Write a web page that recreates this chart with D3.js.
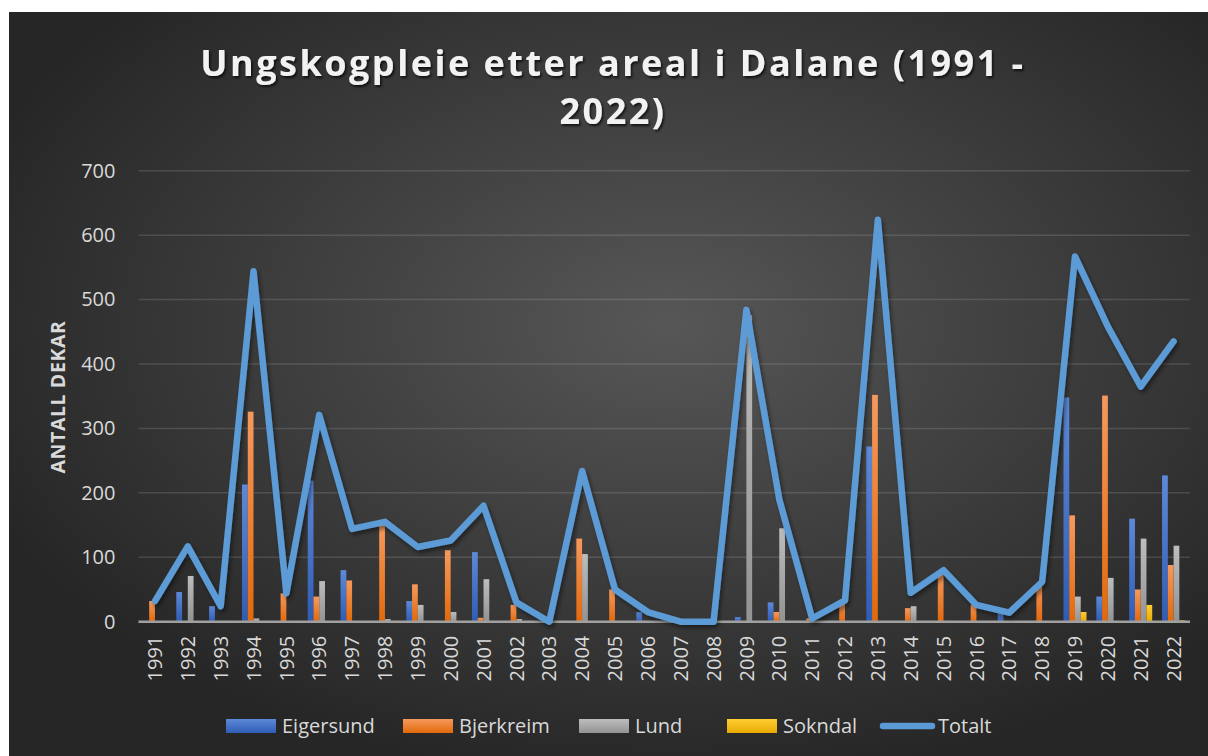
<!DOCTYPE html>
<html>
<head>
<meta charset="utf-8">
<script src="https://cdn.jsdelivr.net/npm/d3@7"></script>
<style>
  html, body { margin: 0; padding: 0; background: #ffffff; }
  svg { display: block; }
  text { font-family: "Open Sans", "DejaVu Sans", sans-serif; }
</style>
</head>
<body>
<svg id="chart" width="1208" height="756"></svg>
<script>
// ---------------- DATA ----------------
const years = ["1991","1992","1993","1994","1995","1996","1997","1998","1999","2000",
  "2001","2002","2003","2004","2005","2006","2007","2008","2009","2010",
  "2011","2012","2013","2014","2015","2016","2017","2018","2019","2020","2021","2022"];

const eigersund = [0,46,24,213,0,219,80,0,32,0,108,0,0,0,0,15,0,0,7,30,0,0,272,0,0,0,13,0,348,39,160,227];
const bjerkreim = [32,0,0,326,44,39,64,151,58,111,6,26,0,129,50,0,0,0,0,15,5,30,352,21,76,26,0,60,165,351,50,88];
const lund      = [0,71,0,5,0,63,0,4,26,15,66,4,0,105,0,0,0,0,476,145,0,0,0,24,0,0,0,0,39,68,129,118];
const sokndal   = [0,0,0,0,0,0,0,0,0,0,0,0,0,0,0,0,0,0,0,0,0,0,0,0,0,0,0,0,15,0,26,2];
const totalt    = [32,117,24,544,44,321,144,155,116,126,180,30,0,234,50,15,0,0,484,190,5,33,624,45,80,26,14,62,567,458,365,435];

const seriesNames = ["Eigersund","Bjerkreim","Lund","Sokndal"];
const lineName = "Totalt";
const yTicks = [0,100,200,300,400,500,600,700];
const titleLines = ["Ungskogpleie etter areal i Dalane (1991 -", "2022)"];
const yTitle = "ANTALL DEKAR";

// ---------------- STYLE ----------------
const colors = {
  Eigersund: ["#5d89d8", "#2f5db5"],
  Bjerkreim: ["#f6995e", "#e2690b"],
  Lund:      ["#bdbdbd", "#939393"],
  Sokndal:   ["#ffcd35", "#e8aa00"]
};
const lineColor = "#5b9bd5";

const svg = d3.select("#chart");
const defs = svg.append("defs");

// background radial gradient
const bg = defs.append("radialGradient").attr("id","bgGrad")
  .attr("cx","55%").attr("cy","42%").attr("r","62%");
bg.append("stop").attr("offset","0%").attr("stop-color","#575757");
bg.append("stop").attr("offset","100%").attr("stop-color","#262626");

seriesNames.forEach((s,i) => {
  const g = defs.append("linearGradient").attr("id","grad"+i)
    .attr("x1","0").attr("y1","0").attr("x2","0").attr("y2","1");
  g.append("stop").attr("offset","0%").attr("stop-color",colors[s][0]);
  g.append("stop").attr("offset","100%").attr("stop-color",colors[s][1]);
});

const shadow = defs.append("filter").attr("id","shadow")
  .attr("x","-10%").attr("y","-10%").attr("width","120%").attr("height","130%");
shadow.append("feDropShadow").attr("dx",2).attr("dy",3).attr("stdDeviation",2)
  .attr("flood-color","#000").attr("flood-opacity",0.45);

const tshadow = defs.append("filter").attr("id","tshadow")
  .attr("x","-5%").attr("y","-20%").attr("width","110%").attr("height","150%");
tshadow.append("feDropShadow").attr("dx",1.5).attr("dy",2).attr("stdDeviation",1.2)
  .attr("flood-color","#000").attr("flood-opacity",0.7);

// chart background
svg.append("rect").attr("x",9).attr("y",12).attr("width",1199).attr("height",744)
  .attr("fill","url(#bgGrad)");

// ---------------- SCALES ----------------
const plot = { left: 138.5, right: 1190, top: 170.7, bottom: 621.7 };

const x = d3.scaleBand().domain(years)
  .range([plot.left, plot.right]).paddingInner(0.3).paddingOuter(0.15);
const xs = d3.scaleBand().domain(seriesNames).range([0, x.bandwidth()]).padding(0);
const y = d3.scaleLinear().domain([0,700]).range([plot.bottom, plot.top]);

// gridlines
svg.append("g").selectAll("line").data(yTicks.filter(t => t > 0)).join("line")
  .attr("x1", plot.left).attr("x2", plot.right)
  .attr("y1", d => y(d)).attr("y2", d => y(d))
  .attr("stroke","#ffffff").attr("stroke-opacity",0.13).attr("stroke-width",1.5);

// y axis
const yAxis = d3.axisLeft(y).tickValues(yTicks).tickSize(0).tickPadding(0);
const yg = svg.append("g").attr("transform",`translate(${plot.left - 23},0)`).call(yAxis);
yg.select(".domain").remove();
yg.selectAll("text").attr("font-size",20).attr("fill","#d9d9d9")
  .attr("font-family","'Open Sans', sans-serif");

// y title
svg.append("text")
  .attr("transform",`translate(65,397) rotate(-90)`)
  .attr("text-anchor","middle")
  .attr("font-size",19.5).attr("font-weight","bold").attr("fill","#d9d9d9")
  .attr("letter-spacing",0.6)
  .text(yTitle);

// bars
const seriesData = [eigersund, bjerkreim, lund, sokndal];
seriesNames.forEach((s,i) => {
  svg.append("g").selectAll("rect")
    .data(years.map((yr,j) => ({yr, v: seriesData[i][j]})).filter(d => d.v > 0))
    .join("rect")
    .attr("x", d => x(d.yr) + xs(s))
    .attr("width", xs.bandwidth())
    .attr("y", d => y(d.v))
    .attr("height", d => y(0) - y(d.v))
    .attr("fill", `url(#grad${i})`);
});

// x axis baseline
svg.append("line").attr("x1",plot.left).attr("x2",plot.right)
  .attr("y1",y(0)).attr("y2",y(0))
  .attr("stroke","#a0a0a0").attr("stroke-width",2.5);

// x labels
const xAxis = d3.axisBottom(x).tickSize(0).tickPadding(0);
const xg = svg.append("g").attr("transform",`translate(0,${plot.bottom + 14})`).call(xAxis);
xg.select(".domain").remove();
xg.selectAll("text")
  .attr("font-size",20).attr("fill","#d9d9d9")
  .attr("font-family","'Open Sans', sans-serif")
  .attr("text-anchor","end")
  .attr("transform","rotate(-90)")
  .attr("x",0).attr("y",0).attr("dy","0.36em");

// total line
const line = d3.line()
  .x((d,j) => x(years[j]) + x.bandwidth()/2)
  .y(d => y(d));
svg.append("path").datum(totalt)
  .attr("d", line)
  .attr("fill","none").attr("stroke",lineColor)
  .attr("stroke-width",6.5).attr("stroke-linejoin","round").attr("stroke-linecap","round")
  .attr("filter","url(#shadow)");

// title
const title = svg.append("g").attr("filter","url(#tshadow)");
titleLines.forEach((t,i) => {
  title.append("text").attr("x",613).attr("y", 76 + i*48)
    .attr("text-anchor","middle")
    .attr("font-size",36).attr("font-weight","bold").attr("fill","#f2f2f2")
    .attr("letter-spacing", 2.5)
    .text(t);
});

// legend
const legendItems = [
  {name: seriesNames[0], type:"rect", idx:0, x:226},
  {name: seriesNames[1], type:"rect", idx:1, x:403},
  {name: seriesNames[2], type:"rect", idx:2, x:579},
  {name: seriesNames[3], type:"rect", idx:3, x:727},
  {name: lineName, type:"line", x:880}
];
const lg = svg.append("g");
legendItems.forEach(it => {
  if (it.type === "rect") {
    lg.append("rect").attr("x",it.x).attr("y",719).attr("width",50).attr("height",14)
      .attr("fill",`url(#grad${it.idx})`);
    lg.append("text").attr("x",it.x+56).attr("y",726).attr("dy","0.36em")
      .attr("font-size",20).attr("fill","#d9d9d9").text(it.name);
  } else {
    lg.append("line").attr("x1",it.x+3).attr("x2",it.x+52).attr("y1",726).attr("y2",726)
      .attr("stroke",lineColor).attr("stroke-width",6.5).attr("stroke-linecap","round");
    lg.append("text").attr("x",it.x+58).attr("y",726).attr("dy","0.36em")
      .attr("font-size",20).attr("fill","#d9d9d9").text(it.name);
  }
});
</script>
</body>
</html>
